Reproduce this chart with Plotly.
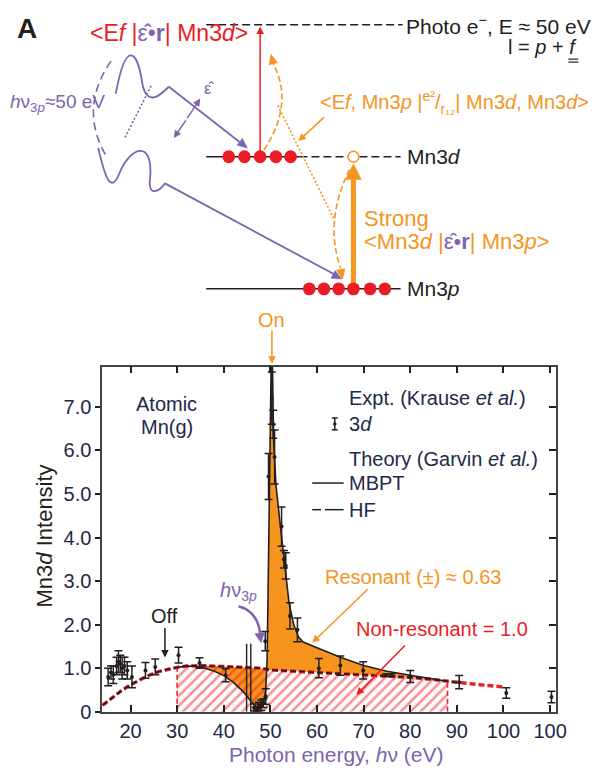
import numpy as np
import plotly.graph_objects as go

W, H = 603, 777

# ---- Experimental Mn 3d intensity (Krause et al.) ----
expt_energy = [15.2, 15.8, 16.3, 17.0, 17.4, 17.8, 18.2, 18.7, 19.3, 20.3, 23.2, 25.3,
               30.3, 34.8, 40.4, 46.5, 47.0, 47.5, 48.0, 48.5, 49.0, 48.9, 49.6, 50.3,
               50.6, 50.9, 52.4, 52.9, 53.3, 54.2, 55.8, 60.4, 65.0, 69.9, 74.8, 76.0,
               80.0, 90.5, 100.6, 110.3]
expt_intensity = [0.80, 0.90, 0.85, 1.05, 1.15, 1.10, 1.00, 1.05, 0.95, 0.80, 0.95, 1.03,
                  1.30, 1.12, 0.84, 0.10, 0.05, 0.12, 0.15, 0.20, 0.35, 1.62, 5.40, 7.20,
                  6.60, 5.85, 4.25, 3.50, 3.35, 2.20, 1.88, 1.00, 1.06, 0.95, 0.84, 0.84,
                  0.81, 0.68, 0.43, 0.34]
expt_error = [0.20, 0.15, 0.20, 0.20, 0.25, 0.20, 0.25, 0.20, 0.20, 0.25, 0.18, 0.18,
              0.18, 0.12, 0.15, 0.08, 0.05, 0.10, 0.12, 0.10, 0.18, 0.22, 0.53, 0.60,
              0.32, 0.62, 0.45, 0.20, 0.30, 0.30, 0.27, 0.22, 0.22, 0.20, 0.03, 0.03,
              0.14, 0.15, 0.12, 0.13]

# two very wide bars just below the 3p threshold
wide_energy = [44.9, 45.8]
wide_intensity = [0.78, 0.78]
wide_error = [0.78, 0.78]

# ---- Theory (Garvin et al.) ----
mbpt_energy = [30, 32, 34, 36, 38, 40, 42, 44, 46, 47, 47.5, 48, 48.5, 49, 49.3, 49.6,
               49.9, 50.3, 50.7, 51.2, 52, 53, 54, 55, 56, 57, 60, 65, 70, 75, 80, 85, 88]
mbpt_intensity = [1.02, 1.05, 1.04, 1.00, 0.93, 0.83, 0.68, 0.48, 0.22, 0.10, 0.06, 0.08,
                  0.20, 0.50, 1.20, 3.50, 6.00, 9.00, 6.20, 5.20, 4.40, 3.40, 2.50, 2.00,
                  1.72, 1.60, 1.47, 1.25, 1.06, 0.93, 0.84, 0.75, 0.70]
hf_energy = [14, 16, 18, 20, 22, 24, 26, 28, 30, 32, 35, 40, 45, 48, 50, 55, 60, 65, 70,
             75, 80, 85, 88, 90, 95, 100]
hf_intensity = [0.15, 0.32, 0.48, 0.62, 0.74, 0.84, 0.92, 0.98, 1.02, 1.05, 1.06, 1.04,
                1.02, 1.00, 0.96, 0.93, 0.91, 0.88, 0.85, 0.82, 0.79, 0.74, 0.70, 0.67,
                0.62, 0.57]

# non-resonant window
window_lo, window_hi = 30, 88

x_tickvals = [20, 30, 40, 50, 60, 70, 80, 90, 100, 110]
x_ticktext = ["20", "30", "40", "50", "60", "70", "80", "90", "100", "100"]
y_tickvals = [0, 1, 2, 3, 4, 5, 6, 7]
y_ticktext = ["0", "1.0", "2.0", "3.0", "4.0", "5.0", "6.0", "7.0"]

ORANGE = "#F7941D"
RED = "#ED1C24"
PURPLE = "#7E63AE"
INK = "#231F20"
NAVY = "#1E2847"
FONT = "Liberation Sans, Arial, sans-serif"
EPS_R = "<span style='color:#7E63AE'>ε̂•<b>r</b></span>"


def px(x):
    return x / W


def py(y):
    return 1 - y / H


def pt(x, y):
    return f"{px(x):.5f},{py(y):.5f}"


shapes = []
annotations = []


def line(x0, y0, x1, y1, color, width=1.5, dash="solid"):
    shapes.append(dict(type="line", xref="paper", yref="paper",
                       x0=px(x0), y0=py(y0), x1=px(x1), y1=py(y1),
                       line=dict(color=color, width=width, dash=dash)))


def circle(cx, cy, r, fill, edge=None, width=1.5):
    shapes.append(dict(type="circle", xref="paper", yref="paper",
                       x0=px(cx - r), x1=px(cx + r), y0=py(cy + r), y1=py(cy - r),
                       fillcolor=fill,
                       line=dict(color=edge or fill, width=width if edge else 0)))


def path(d, color, width=1.5, dash="solid", fill=None):
    shapes.append(dict(type="path", xref="paper", yref="paper", path=d,
                       fillcolor=fill or "rgba(0,0,0,0)",
                       line=dict(color=color, width=width, dash=dash)))


def head(tx, ty, dx, dy, color, length=9, half=4.5):
    n = np.hypot(dx, dy)
    ux, uy = dx / n, dy / n
    bx, by = tx - ux * length, ty - uy * length
    d = (f"M {pt(tx, ty)} L {pt(bx - uy * half, by + ux * half)} "
         f"L {pt(bx + uy * half, by - ux * half)} Z")
    path(d, color, width=0.5, fill=color)


def arrow(x0, y0, x1, y1, color, width=1.5, size=1.0):
    annotations.append(dict(xref="paper", yref="paper", x=px(x1), y=py(y1),
                            ax=x0 - x1, ay=y0 - y1, text="", showarrow=True,
                            arrowhead=2, arrowsize=size, arrowwidth=width,
                            arrowcolor=color, standoff=0, startstandoff=0))


def text(x, y, s, size, color, xanchor="left", yanchor="middle", angle=0):
    annotations.append(dict(xref="paper", yref="paper", x=px(x), y=py(y), text=s,
                            showarrow=False, xanchor=xanchor, yanchor=yanchor,
                            textangle=angle,
                            font=dict(family=FONT, size=size, color=color)))


fig = go.Figure()

# ---- filled regions ----
e_m = np.array(mbpt_energy)
i_m = np.array(mbpt_intensity)
e_h = np.array(hf_energy)
i_h = np.array(hf_intensity)
win = (e_h >= window_lo) & (e_h <= window_hi)

fig.add_trace(go.Scatter(
    x=np.concatenate([e_m, e_h[win][::-1]]),
    y=np.concatenate([i_m, i_h[win][::-1]]),
    fill="toself", fillcolor=ORANGE, line=dict(width=0), mode="lines",
    hoverinfo="skip", showlegend=False))

fig.add_trace(go.Scatter(
    x=np.concatenate([[window_lo], e_h[win], [window_hi, window_lo]]),
    y=np.concatenate([[0], i_h[win], [0, 0]]),
    fill="toself", fillcolor="rgba(0,0,0,0)",
    fillpattern=dict(shape="/", fgcolor=RED, bgcolor="rgba(0,0,0,0)",
                     size=7, solidity=0.36),
    line=dict(width=0), mode="lines",
    hoverinfo="skip", showlegend=False))

# dashed red edges of the non-resonant window
for edge in (window_lo, window_hi):
    top = float(np.interp(edge, e_h, i_h))
    fig.add_trace(go.Scatter(x=[edge, edge], y=[0, top], mode="lines",
                             line=dict(color=RED, width=1.6, dash="5px,3px"),
                             showlegend=False, hoverinfo="skip"))

# ---- theory curves ----
fig.add_trace(go.Scatter(x=hf_energy, y=hf_intensity, mode="lines",
                         line=dict(color=RED, width=3.4, dash="6px,3px"),
                         showlegend=False))
hf_black = e_h <= 90
fig.add_trace(go.Scatter(x=e_h[hf_black], y=i_h[hf_black], mode="lines",
                         line=dict(color=INK, width=1.6, dash="6px,3px"),
                         showlegend=False))
fig.add_trace(go.Scatter(x=mbpt_energy, y=mbpt_intensity, mode="lines",
                         line=dict(color=INK, width=1.6), showlegend=False))

# ---- experiment ----
fig.add_trace(go.Scatter(x=wide_energy, y=wide_intensity, mode="markers",
                         marker=dict(size=1, color="rgba(0,0,0,0)"),
                         error_y=dict(type="data", array=wide_error, color=INK,
                                      thickness=1.4, width=0),
                         showlegend=False))
fig.add_trace(go.Scatter(x=expt_energy, y=expt_intensity, mode="markers",
                         marker=dict(size=4, color=INK),
                         error_y=dict(type="data", array=expt_error, color=INK,
                                      thickness=1.5, width=4),
                         showlegend=False))
fig.add_trace(go.Scatter(x=[], y=[], yaxis="y2", showlegend=False))

# ---- legend inside the axes ----
text(353, 404, "Expt. (Krause <i>et al.</i>)", 20, NAVY)
line(341, 424, 341, 436, INK, 1.5)
line(338, 424, 344, 424, INK, 1.5)
line(338, 436, 344, 436, INK, 1.5)
circle(341, 430, 1.8, INK)
text(353, 430, "3<i>d</i>", 20, NAVY)
text(353, 466, "Theory (Garvin <i>et al.</i>)", 20, NAVY)
line(318, 490, 350, 490, INK, 1.5)
text(353, 490, "MBPT", 20, NAVY)
line(318, 517, 327, 517, INK, 1.5)
line(331, 517, 350, 517, INK, 1.5)
text(353, 517, "HF", 20, NAVY)

text(170, 410, "Atomic", 20, NAVY, xanchor="center")
text(170, 433, "Mn(g)", 20, NAVY, xanchor="center")

# ---- plot call-outs ----
text(277, 325, "On", 20, ORANGE, xanchor="center")
arrow(277, 334, 277, 369, ORANGE, 1.5, 1.0)
text(168, 625, "Off", 20, INK, xanchor="center")
arrow(168, 636, 168, 667, INK, 1.5, 1.0)
text(243, 600, "<i>h</i>ν<sub>3<i>p</i></sub>", 20, PURPLE, xanchor="center")
path(f"M {pt(243, 615)} Q {pt(262, 620)} {pt(265, 642)}", PURPLE, 2.5)
head(266, 652, 0.15, 1, PURPLE, 10, 5)
text(421, 585, "Resonant (±) ≈ 0.63", 20, ORANGE, xanchor="center")
arrow(375, 597, 318, 652, ORANGE, 1.5, 1.0)
text(450, 638, "Non-resonant = 1.0", 20, RED, xanchor="center")
arrow(413, 654, 363, 705, RED, 1.5, 1.0)

# ---- axis titles ----
text(342, 765, "Photon energy, <i>h</i>ν (eV)", 21, PURPLE, xanchor="center")
text(45, 544, "Mn3<i>d</i> Intensity", 22, INK, xanchor="center", angle=-90)

# ---- energy level diagram ----
text(27, 29, "<b>A</b>", 28, INK, xanchor="center")
line(210, 25, 410, 25, INK, 1.5, "8px,4px")
text(411, 25, "Photo e<sup>−</sup>, E ≈ 50 eV", 21, INK)
text(590, 48, "l = <i>p</i> + <i>f</i>", 20, INK, xanchor="right")
line(579, 60, 589, 60, INK, 1.2)
line(579, 63, 589, 63, INK, 1.2)

line(210, 159, 305, 159, INK, 1.5)
line(305, 159, 408, 159, INK, 1.5, "8px,4px")
line(210, 293, 408, 293, INK, 1.5)
text(413, 159, "Mn3<i>d</i>", 21, INK)
text(413, 293, "Mn3<i>p</i>", 21, INK)

text(90, 33, f"&lt;E<i>f</i> |{EPS_R}| Mn3<i>d</i>&gt;", 23, RED)
arrow(265, 159, 265, 27, RED, 1.5, 1.0)

# orange transitions
line(360, 293, 360, 182, ORANGE, 5)
head(360, 166, 0, -1, ORANGE, 16, 8)
path(f"M {pt(269, 152)} Q {pt(300, 105)} {pt(278, 64)}", ORANGE, 1.6, "6px,3px")
head(276, 55, -0.25, -1, ORANGE, 10, 4.5)
path(f"M {pt(283, 107)} L {pt(340, 222)}", ORANGE, 1.6, "2px,2px")
path(f"M {pt(356, 172)} Q {pt(330, 225)} {pt(347, 272)}", ORANGE, 1.6, "6px,3px")
head(349, 283, 0.2, 1, ORANGE, 10, 4.5)
text(602, 104, "&lt;E<i>f</i>, Mn3<i>p</i> |<sup>e²</sup>/<sub>r₁₂</sub>| Mn3<i>d</i>, Mn3<i>d</i>&gt;",
     20, ORANGE, xanchor="right")
arrow(331, 118, 304, 143, ORANGE, 1.5, 1.0)
text(369, 222, "Strong", 22, ORANGE)
text(369, 245, f"&lt;Mn3<i>d</i> |{EPS_R}| Mn3<i>p</i>&gt;", 22, ORANGE)

# electrons
for xc in [233, 249, 265, 281, 296]:
    circle(xc, 159, 6.5, RED)
circle(360, 159, 5.5, "white", ORANGE, 1.5)
for xc in [315, 330, 345, 360, 377, 392]:
    circle(xc, 293, 6.5, RED)

# photons
text(8, 104, "<i>h</i>ν<sub>3<i>p</i></sub>≈50 eV", 19, PURPLE)
path(f"M {pt(113, 62)} Q {pt(80, 110)} {pt(108, 158)}", PURPLE, 1.6, "8px,5px")
path(f"M {pt(118, 95)} C {pt(128, 40)} {pt(140, 50)} {pt(145, 85)} "
     f"C {pt(150, 110)} {pt(165, 95)} {pt(172, 88)}", PURPLE, 1.8)
path(f"M {pt(172, 88)} L {pt(244, 144)}", PURPLE, 1.8)
head(252, 150, 1, 0.78, PURPLE, 10, 4.5)
path(f"M {pt(100, 150)} C {pt(106, 175)} {pt(112, 200)} {pt(122, 175)} "
     f"C {pt(132, 150)} {pt(156, 140)} {pt(153, 180)} "
     f"C {pt(150, 200)} {pt(162, 195)} {pt(168, 186)}", PURPLE, 1.8)
path(f"M {pt(168, 186)} L {pt(340, 278)}", PURPLE, 1.8)
head(348, 283, 1, 0.53, PURPLE, 10, 4.5)
path(f"M {pt(154, 87)} L {pt(127, 140)}", PURPLE, 1.6, "2px,2px")
arrow(190, 121, 177, 140, PURPLE, 1.5, 1.0)
arrow(190, 121, 204, 100, PURPLE, 1.5, 1.0)
text(213, 90, "ε̂", 16, PURPLE, xanchor="center")

fig.update_layout(
    width=W, height=H, margin=dict(l=0, r=0, t=0, b=0),
    paper_bgcolor="white", plot_bgcolor="white",
    font=dict(family=FONT, color=INK),
    xaxis=dict(domain=[104 / W, 566 / W], range=[13.9, 111.2],
               tickvals=x_tickvals, ticktext=x_ticktext,
               ticks="inside", ticklen=7, tickwidth=1.5, tickcolor=INK,
               showline=True, linecolor="#444", linewidth=1.5, mirror="ticks",
               showgrid=False, zeroline=False,
               tickfont=dict(family=FONT, size=20, color=NAVY)),
    yaxis=dict(domain=[55 / H, 405 / H], range=[0, 7.92],
               tickvals=y_tickvals, ticktext=y_ticktext,
               ticks="outside", ticklen=5, tickwidth=1.5, tickcolor=INK,
               showline=True, linecolor="#444", linewidth=1.5, mirror=True,
               showgrid=False, zeroline=False,
               tickfont=dict(family=FONT, size=20, color=NAVY)),
    yaxis2=dict(overlaying="y", side="right", anchor="x", range=[0, 7.92],
                tickvals=y_tickvals[1:], ticks="inside", ticklen=7, tickwidth=1.5,
                tickcolor=INK, showticklabels=False, showline=False,
                showgrid=False, zeroline=False),
    shapes=shapes, annotations=annotations, showlegend=False,
)

fig.write_html("out.html")
